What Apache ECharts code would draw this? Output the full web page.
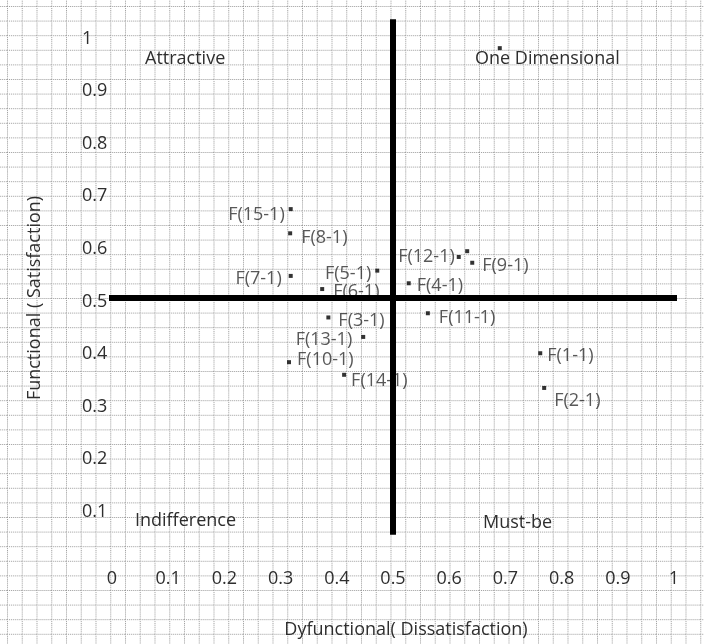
<!DOCTYPE html>
<html><head><meta charset="utf-8">
<script src="https://cdn.jsdelivr.net/npm/echarts@6/dist/echarts.min.js"></script>
<style>
html,body{margin:0;padding:0;background:#fff;}
#wrap{position:relative;width:704px;height:644px;overflow:hidden;}
#bg{position:absolute;left:0;top:0;}
#chart{position:absolute;left:0;top:0;width:704px;height:644px;}
</style></head>
<body><div id="wrap">
<svg id="bg" width="704" height="644"><defs><pattern id="p" x="7" y="6" width="14.75" height="14.6" patternUnits="userSpaceOnUse"><line x1="0.5" y1="0" x2="0.5" y2="14.6" stroke="#9a9a9a" stroke-dasharray="1 1"/><line x1="0" y1="0.5" x2="14.75" y2="0.5" stroke="#9a9a9a" stroke-dasharray="1 1"/></pattern></defs><rect width="704" height="644" fill="url(#p)"/></svg>
<div id="chart"></div></div>
<script>
// ---- data ----
const featureNames = ['F(1-1)','F(2-1)','F(3-1)','F(4-1)','F(5-1)','F(6-1)','F(7-1)','F(8-1)','F(9-1)','F(10-1)','F(11-1)','F(12-1)','F(13-1)','F(14-1)','F(15-1)','',''];
const dysfunctional = [0.762,0.769,0.385,0.528,0.472,0.374,0.318,0.317,0.641,0.315,0.562,0.617,0.447,0.413,0.318,0.632,0.690];
const functional    = [0.395,0.329,0.463,0.528,0.552,0.517,0.542,0.623,0.567,0.378,0.471,0.578,0.426,0.354,0.669,0.589,0.975];
const quadrantNames = ['Attractive','One Dimensional','Indifference','Must-be'];
const xAxisTitle = 'Dyfunctional( Dissatisfaction)';
const yAxisTitle = 'Functional ( Satisfaction)';
const crossVertical = [[0.5,0.05],[0.5,1.03]];
const crossHorizontal = [[-0.007,0.5],[1.011,0.5]];

// ---- styling (label placement per point) ----
const labelPlace = {
  'F(1-1)':{position:'right',distance:5},
  'F(2-1)':{position:'right',distance:8,offset:[0,10]},
  'F(3-1)':{position:'right',distance:8},
  'F(4-1)':{position:'right',distance:6},
  'F(5-1)':{position:'left',distance:4},
  'F(6-1)':{position:'right',distance:9},
  'F(7-1)':{position:'left',distance:7},
  'F(8-1)':{position:'right',distance:9,offset:[0,2]},
  'F(9-1)':{position:'right',distance:8},
  'F(10-1)':{position:'right',distance:6,offset:[0,-5]},
  'F(11-1)':{position:'right',distance:9,offset:[0,2]},
  'F(12-1)':{position:'left',distance:2,offset:[0,-3]},
  'F(13-1)':{position:'left',distance:9},
  'F(14-1)':{position:'right',distance:5,offset:[0,3]},
  'F(15-1)':{position:'left',distance:4,offset:[0,3]}
};
const FONT = 'Open Sans';
const TXT = '#2e2e2e';

const points = featureNames.map((n,i)=>{
  const lp = labelPlace[n] || {position:'right',distance:5};
  return {name:n, value:[dysfunctional[i], functional[i]], label:Object.assign({show: n!==''}, lp)};
});

const chart = echarts.init(document.getElementById('chart'), null, {renderer:'canvas'});
chart.setOption({
  backgroundColor:'transparent',
  animation:false,
  grid:{left:112,right:30,top:35,bottom:83},
  xAxis:{
    type:'value',min:0,max:1,interval:0.1,
    axisLine:{show:false},axisTick:{show:false},splitLine:{show:false},
    axisLabel:{margin:9,fontFamily:FONT,fontSize:18,color:TXT},
    name:xAxisTitle,nameLocation:'middle',nameGap:60,
    nameTextStyle:{fontFamily:FONT,fontSize:18,color:TXT,padding:[0,0,0,26]}
  },
  yAxis:{
    type:'value',min:0,max:1,interval:0.1,
    axisLine:{show:false},axisTick:{show:false},splitLine:{show:false},
    axisLabel:{margin:30,align:'left',verticalAlign:'top',lineHeight:7,fontFamily:FONT,fontSize:18,color:TXT,
      formatter:v=> v===0 ? '' : String(Math.round(v*10)/10)},
    name:yAxisTitle,nameLocation:'middle',nameGap:68,
    nameTextStyle:{fontFamily:FONT,fontSize:18,color:TXT}
  },
  graphic:[
    {type:'text',x:145,y:59,style:{text:quadrantNames[0],fontFamily:FONT,fontSize:18,fill:TXT,verticalAlign:'middle'}},
    {type:'text',x:475,y:59,style:{text:quadrantNames[1],fontFamily:FONT,fontSize:18,fill:TXT,verticalAlign:'middle'}},
    {type:'text',x:135,y:521,style:{text:quadrantNames[2],fontFamily:FONT,fontSize:18,fill:TXT,verticalAlign:'middle'}},
    {type:'text',x:483,y:523,style:{text:quadrantNames[3],fontFamily:FONT,fontSize:18,fill:TXT,verticalAlign:'middle'}}
  ],
  series:[
    {type:'scatter',z:2,symbol:'rect',symbolSize:4,itemStyle:{color:'#000'},
     label:{formatter:'{b}',fontFamily:FONT,fontSize:18,color:TXT,verticalAlign:'top',lineHeight:6},
     data:points},
    {type:'line',z:5,clip:false,symbol:'none',lineStyle:{color:'#000',width:6,cap:'butt'},data:crossVertical},
    {type:'line',z:5,clip:false,symbol:'none',lineStyle:{color:'#000',width:6,cap:'butt'},data:crossHorizontal}
  ]
});
</script>
</body></html>
